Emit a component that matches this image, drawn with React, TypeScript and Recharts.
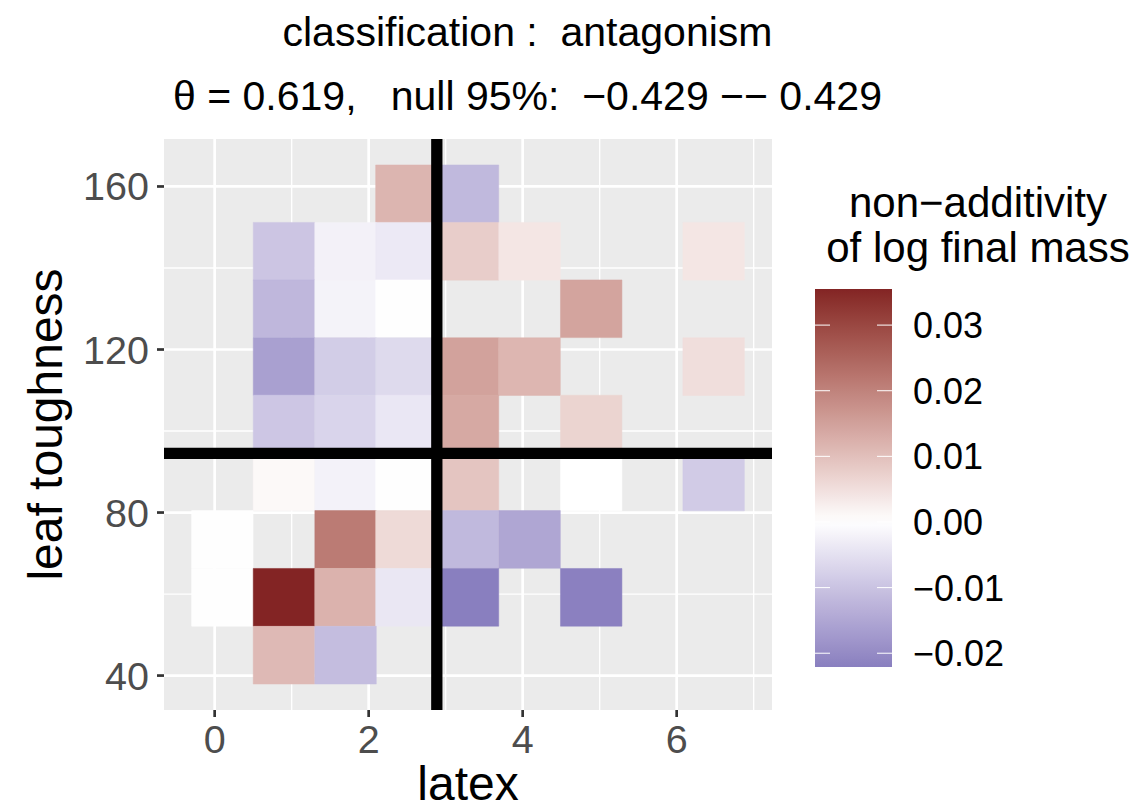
import React from 'react';
import {
  ComposedChart,
  XAxis,
  YAxis,
  CartesianGrid,
  ReferenceArea,
  ReferenceLine,
  Label,
} from 'recharts';

// bin centres of the two predictors
const latexMid = [0.1, 0.9, 1.7, 2.49, 3.29, 4.09, 4.89, 5.68, 6.48];
const toughMid = [158.2, 144.1, 130.0, 115.8, 101.7, 87.5, 73.4, 59.2, 45.0];
const tileW = 0.798;
const tileH = 14.16;

// non-additivity of log final mass, one row per toughness bin (top to bottom)
const nonAdditivity: (number | null)[][] = [
  [null, null, null, 0.0117, -0.0118, null, null, null, null],
  [null, -0.0097, -0.0023, -0.0036, 0.0078, 0.0039, null, null, 0.0039],
  [null, -0.0121, -0.002, -0.0002, null, null, 0.0145, null, null],
  [null, -0.0162, -0.0084, -0.0062, 0.0148, 0.0115, null, null, 0.0051],
  [null, -0.0095, -0.0071, -0.0039, 0.0137, null, 0.0068, null, null],
  [null, 0.001, -0.0022, 0.0002, 0.0091, null, 0.0, null, -0.0086],
  [-0.0002, null, 0.0213, 0.0058, -0.0118, -0.0151, null, null, null],
  [-0.0002, 0.0355, 0.0121, -0.004, -0.0221, null, -0.0219, null, null],
  [null, 0.011, -0.0111, null, null, null, null, null, null],
];

const latexSplit = 2.885;
const toughSplit = 94.5;

const xMajor = [0, 2, 4, 6];
const xMinor = [1, 3, 5, 7];
const yMajor = [40, 80, 120, 160];
const yMinor = [60, 100, 140];
const legendBreaks = [0.03, 0.02, 0.01, 0.0, -0.01, -0.02];

const lowCol = '#3A3A98';
const midCol = '#FFFFFF';
const highCol = '#832424';

// --- Lab interpolation like scales::colour_ramp ---
const toLin = (c: number) => (c <= 0.04045 ? c / 12.92 : ((c + 0.055) / 1.055) ** 2.4);
const fromLin = (c: number) => (c <= 0.0031308 ? 12.92 * c : 1.055 * c ** (1 / 2.4) - 0.055);

const hexToLab = (hex: string) => {
  const [r, g, b] = [1, 3, 5].map((i) => toLin(parseInt(hex.slice(i, i + 2), 16) / 255));
  const X = (0.4124 * r + 0.3576 * g + 0.1805 * b) / 0.95047;
  const Y = 0.2126 * r + 0.7152 * g + 0.0722 * b;
  const Z = (0.0193 * r + 0.1192 * g + 0.9505 * b) / 1.08883;
  const f = (t: number) => (t > 216 / 24389 ? Math.cbrt(t) : ((24389 / 27) * t + 16) / 116);
  const fx = f(X), fy = f(Y), fz = f(Z);
  return [116 * fy - 16, 500 * (fx - fy), 200 * (fy - fz)];
};

const labToHex = ([L, a, b]: number[]) => {
  const fy = (L + 16) / 116;
  const fx = fy + a / 500;
  const fz = fy - b / 200;
  const inv = (t: number) => (t ** 3 > 216 / 24389 ? t ** 3 : (116 * t - 16) / (24389 / 27));
  const X = inv(fx) * 0.95047, Y = inv(fy), Z = inv(fz) * 1.08883;
  const rgb = [
    3.2406 * X - 1.5372 * Y - 0.4986 * Z,
    -0.9689 * X + 1.8758 * Y + 0.0415 * Z,
    0.0557 * X - 0.204 * Y + 1.057 * Z,
  ];
  return (
    '#' +
    rgb
      .map((c) => Math.round(Math.min(1, Math.max(0, fromLin(c))) * 255).toString(16).padStart(2, '0'))
      .join('')
  );
};

const labLow = hexToLab(lowCol);
const labMid = hexToLab(midCol);
const labHigh = hexToLab(highCol);

const tiles = nonAdditivity.flatMap((row, r) =>
  row.flatMap((v, c) => (v === null ? [] : [{ latex: latexMid[c], tough: toughMid[r], value: v }]))
);
const vMin = Math.min(...tiles.map((t) => t.value));
const vMax = Math.max(...tiles.map((t) => t.value));
const maxAbs = Math.max(Math.abs(vMin), Math.abs(vMax));

const fillFor = (v: number) => {
  const t = Math.min(1, Math.abs(v) / maxAbs);
  const end = v >= 0 ? labHigh : labLow;
  return labToHex(labMid.map((m, i) => m + (end[i] - m) * t));
};

// ggplot-like 5% expansion
const expand = (lo: number, hi: number) => {
  const d = (hi - lo) * 0.05;
  return [lo - d, hi + d];
};
const xDomain = expand(Math.min(...latexMid) - tileW / 2, Math.max(...latexMid) + tileW / 2);
const yDomain = expand(Math.min(...toughMid) - tileH / 2, Math.max(...toughMid) + tileH / 2);

const font = '"Liberation Sans", Arial, Helvetica, sans-serif';

// colour bar geometry
const barX = 815;
const barW = 77;
const barTop = 289;
const barH = 378;
const barY = (v: number) => barTop + ((vMax - v) / (vMax - vMin)) * barH;
const gradStops = Array.from({ length: 41 }, (_, i) => vMax - ((vMax - vMin) * i) / 40);

export default function App() {
  return (
    <div
      style={{
        position: 'absolute',
        left: 0,
        top: 0,
        width: 1148,
        height: 812,
        background: '#FFFFFF',
        fontFamily: font,
      }}
    >
      <ComposedChart
        width={1148}
        height={812}
        data={tiles}
        margin={{ top: 139, right: 376, bottom: 0, left: 0 }}
      >
        <CartesianGrid
          fill="#EBEBEB"
          fillOpacity={1}
          stroke="#FFFFFF"
          strokeWidth={1.35}
          verticalValues={xMinor}
          horizontalValues={yMinor}
        />
        <CartesianGrid
          stroke="#FFFFFF"
          strokeWidth={2.7}
          verticalValues={xMajor}
          horizontalValues={yMajor}
        />
        <XAxis
          type="number"
          dataKey="latex"
          domain={xDomain}
          ticks={xMajor}
          allowDataOverflow
          height={102}
          axisLine={false}
          tickSize={7}
          tickMargin={8}
          tickLine={{ stroke: '#333333', strokeWidth: 2.7 }}
          tick={{ fill: '#4D4D4D', fontSize: 39.5, fontFamily: font }}
        >
          <Label value="latex" position="insideBottom" offset={12} fontSize={48} fill="#000000" fontFamily={font} />
        </XAxis>
        <YAxis
          type="number"
          dataKey="tough"
          domain={yDomain}
          ticks={yMajor}
          allowDataOverflow
          width={164}
          axisLine={false}
          tickSize={7}
          tickMargin={8}
          tickLine={{ stroke: '#333333', strokeWidth: 2.7 }}
          tick={{ fill: '#4D4D4D', fontSize: 39.5, fontFamily: font }}
        >
          <Label
            value="leaf toughness"
            position="insideLeft"
            angle={-90}
            offset={45}
            fontSize={48}
            fill="#000000"
            fontFamily={font}
            style={{ textAnchor: 'middle' }}
          />
        </YAxis>
        {tiles.map((t, i) => {
          const col = fillFor(t.value);
          return (
            <ReferenceArea
              key={i}
              x1={t.latex - tileW / 2}
              x2={t.latex + tileW / 2}
              y1={t.tough - tileH / 2}
              y2={t.tough + tileH / 2}
              fill={col}
              fillOpacity={1}
              stroke={col}
              strokeWidth={0.5}
              ifOverflow="visible"
            />
          );
        })}
        <ReferenceLine y={toughSplit} stroke="#000000" strokeWidth={11.3} />
        <ReferenceLine x={latexSplit} stroke="#000000" strokeWidth={11.3} />
      </ComposedChart>

      <svg
        width={1148}
        height={812}
        style={{ position: 'absolute', left: 0, top: 0, pointerEvents: 'none' }}
        fontFamily={font}
      >
        <defs>
          <linearGradient id="naGrad" x1="0" y1="0" x2="0" y2="1">
            {gradStops.map((v, i) => (
              <stop key={i} offset={`${(i / 40) * 100}%`} stopColor={fillFor(v)} />
            ))}
          </linearGradient>
        </defs>
        <text x={527.5} y={45.5} textAnchor="middle" fontSize={41} fill="#000" style={{ whiteSpace: 'pre' }}>
          {'classification :  antagonism'}
        </text>
        <text x={527.5} y={110} textAnchor="middle" fontSize={41} fill="#000" style={{ whiteSpace: 'pre' }}>
          {'\u03B8 = 0.619,   null 95%:  \u22120.429 \u2212\u2212 0.429'}
        </text>
        <text x={978} y={216.7} textAnchor="middle" fontSize={42} fill="#000">
          non{'\u2212'}additivity
        </text>
        <text x={978} y={261.7} textAnchor="middle" fontSize={42} fill="#000">
          of log final mass
        </text>
        <rect x={barX} y={barTop} width={barW} height={barH} fill="url(#naGrad)" />
        {legendBreaks.map((b) => {
          const y = barY(b);
          return (
            <g key={b}>
              <line x1={barX} x2={barX + 15} y1={y} y2={y} stroke="#FFFFFF" strokeWidth={1} />
              <line x1={barX + barW - 15} x2={barX + barW} y1={y} y2={y} stroke="#FFFFFF" strokeWidth={1} />
              <text x={913} y={y + 13} fontSize={36} fill="#000">
                {b < 0 ? '\u2212' + Math.abs(b).toFixed(2) : b.toFixed(2)}
              </text>
            </g>
          );
        })}
      </svg>
    </div>
  );
}
